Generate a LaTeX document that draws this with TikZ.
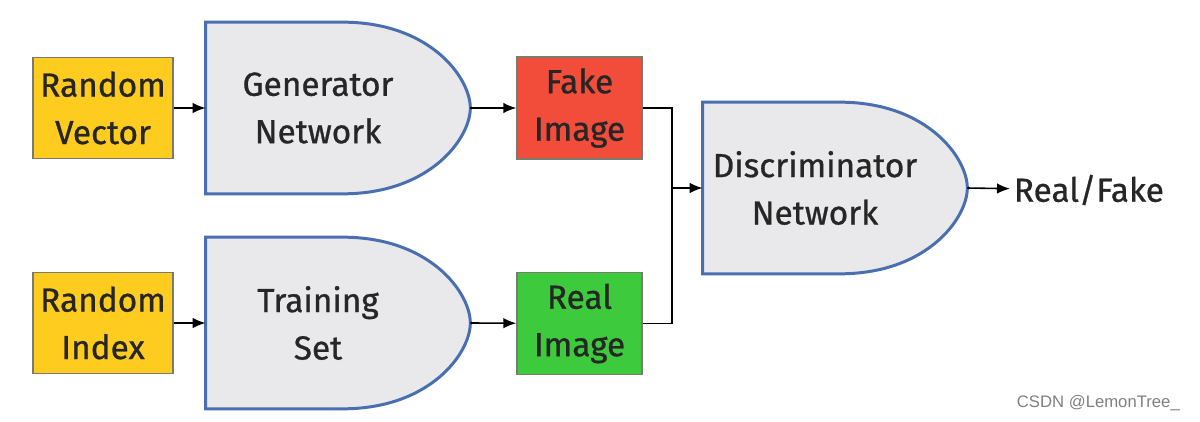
\documentclass[tikz,border=0pt]{standalone}
\usepackage{fontspec}
\setmainfont{Fira Sans}
\newfontfamily\labelfont{Fira Sans}[FakeBold=0.8]
\newfontfamily\markfont{Liberation Sans}
\usetikzlibrary{arrows.meta,calc,backgrounds}
\definecolor{boxyellow}{HTML}{FECB1F}
\definecolor{imgred}{HTML}{F24C3B}
\definecolor{imggreen}{HTML}{3DCB3D}
\definecolor{gatefill}{HTML}{E9E9EC}
\definecolor{gateblue}{HTML}{4A6FB0}
\definecolor{edgegray}{HTML}{7A7A70}

\begin{document}
\begin{tikzpicture}[x=0.02cm, y=-0.02cm, >={Latex[length=2.6mm,width=2.1mm]},
	every node/.style={font=\labelfont\fontsize{19}{27}\selectfont, text=black!85, align=center},
	inbox/.style={draw=edgegray, line width=0.8pt, minimum width=2.8cm, minimum height=2.02cm, inner sep=0pt},
	imgbox/.style={draw=edgegray, line width=0.8pt, minimum width=2.5cm, minimum height=2.04cm, inner sep=0pt},
	gate/.style={minimum width=4.48cm, minimum height=3.42cm, inner sep=0pt},
	gateline/.style={draw=gateblue, fill=gatefill, line width=1.7pt},
	wire/.style={line width=0.9pt}]
	\useasboundingbox (0,0) rectangle (1200,422);
	\node[inbox, fill=boxyellow] (vec) at (103,108) {Random\\Vector};
	\node[inbox, fill=boxyellow] (idx) at (103,323) {Random\\Index};
	\node[gate] (gen) at (318,108) {Generator\\Network};
	\node[gate] (train) at (318,323) {Training\\Set};
	\node[imgbox, fill=imgred] (fake) at (579.5,108) {Fake\\Image};
	\node[imgbox, fill=imggreen] (real) at (579.5,323.5) {Real\\Image};
	\node[gate] (disc) at (815,188) {Discriminator\\Network};
	\node[anchor=west, inner sep=2pt] (out) at (1010,190) {Real/Fake};
	\node[font=\markfont\fontsize{9.5}{12}\selectfont, text=black!50, anchor=east] (mark) at (1186,403) {CSDN @LemonTree\_};
	\begin{scope}[on background layer]
		\foreach \g in {gen,train,disc}
			\draw[gateline] (\g.south west) -- (\g.north west) -- ($(\g.north west)+(137,0)$)
				.. controls (\g.north east) and ($(\g.east)+(40,-30)$) .. ($(\g.east)+(40,0)$)
				.. controls ($(\g.east)+(40,30)$) and (\g.south east) .. ($(\g.south west)+(137,0)$) -- cycle;
	\end{scope}
	\coordinate (gentip) at ($(gen.east)+(40,0)$);
	\coordinate (traintip) at ($(train.east)+(40,0)$);
	\coordinate (disctip) at ($(disc.east)+(40,0)$);
	\coordinate (join) at (672,188);
	\draw[wire,->] (vec) -- (gen.west);
	\draw[wire,->] (idx) -- (train.west);
	\draw[wire,->] (gentip) -- (fake);
	\draw[wire,->] (traintip) -- (real);
	\draw[wire] (fake.east) -| (join);
	\draw[wire] (real.east) -| (join);
	\draw[wire,->] (join) -- (disc.west);
	\draw[wire,->] (disctip) -- (out);
\end{tikzpicture}
\end{document}
